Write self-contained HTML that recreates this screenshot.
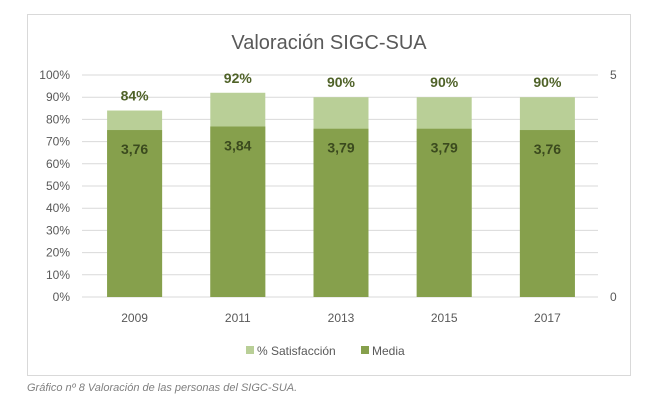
<!DOCTYPE html>
<html><head><meta charset="utf-8"><style>
body{margin:0;width:651px;height:406px;background:#fff;font-family:"Liberation Sans",sans-serif;overflow:hidden}
svg text{font-family:"Liberation Sans",sans-serif}
</style></head><body>
<svg id="c" width="651" height="406">
<rect x="27.5" y="14.5" width="603" height="361" fill="#fff" stroke="#d9d9d9"/>
<text x="329" y="49" text-anchor="middle" font-size="20" fill="#595959">Valoración SIGC-SUA</text>
<g id="grid"></g><g id="bars"></g><g id="labels"></g>
<g>
<rect x="246" y="346" width="8" height="8" fill="#b9cf97"/>
<text x="257" y="355" font-size="12" fill="#595959">% Satisfacción</text>
<rect x="361" y="346" width="8" height="8" fill="#86a04c"/>
<text x="372" y="355" font-size="12" fill="#595959">Media</text>
</g>
<text x="27" y="391" font-size="11" font-style="italic" fill="#7f7f7f">Gráfico nº 8 Valoración de las personas del SIGC-SUA.</text>
</svg>
<script>
const categories=["2009","2011","2013","2015","2017"];
const satisfaccion=[84,92,90,90,90];
const media=[3.76,3.84,3.79,3.79,3.76];
const pctTicks=[0,10,20,30,40,50,60,70,80,90,100];
const rightTicks=[0,5];
const NS="http://www.w3.org/2000/svg";
const x0=82,x1=598,yTop=75,yBot=297;
const yP=v=>yBot-(v/100)*(yBot-yTop);
const yM=v=>yBot-(v/5)*(yBot-yTop);
const bw=(x1-x0)/categories.length;
const cx=i=>x0+bw*(i+0.5)+1;
function mk(tag,attrs,parent,text){const e=document.createElementNS(NS,tag);for(const k in attrs)e.setAttribute(k,attrs[k]);if(text!==undefined)e.textContent=text;document.getElementById(parent).appendChild(e);return e;}
pctTicks.forEach(t=>{
 const l=mk('line',{x1:x0,x2:x1,y1:yP(t),y2:yP(t),stroke:'#d9d9d9'},'grid');
 
 
 const tx=mk('text',{x:70,y:yP(t)+4,'text-anchor':'end','font-size':12,fill:'#595959'},'grid',t+'%');
 
 
});
rightTicks.forEach(t=>{
 const tx=mk('text',{x:610,y:yM(t)+4,'font-size':12,fill:'#595959'},'grid',String(t));
 
 
});
categories.forEach((c,i)=>{
 const w=55,x=cx(i)-w/2;
 const b1=mk('rect',{x:x,y:yP(satisfaccion[i]),width:w,height:yBot-yP(satisfaccion[i]),fill:'#b9cf97'},'bars');
 
 
 const b2=mk('rect',{x:x,y:yM(media[i]),width:w,height:yBot-yM(media[i]),fill:'#86a04c'},'bars');
 
 
 const t1=mk('text',{x:cx(i),y:yP(satisfaccion[i])-10,'text-anchor':'middle','font-size':14,'font-weight':'bold',fill:'#4f6228'},'labels',satisfaccion[i]+'%');
 
 
 const t2=mk('text',{x:cx(i),y:yM(media[i])+24,'text-anchor':'middle','font-size':14,'font-weight':'bold',fill:'#3b4a1e'},'labels',media[i].toFixed(2).replace('.',','));
 
 
 const t3=mk('text',{x:cx(i),y:322,'text-anchor':'middle','font-size':12,fill:'#595959'},'labels',c);
 
 
});
</script>
</body></html>
